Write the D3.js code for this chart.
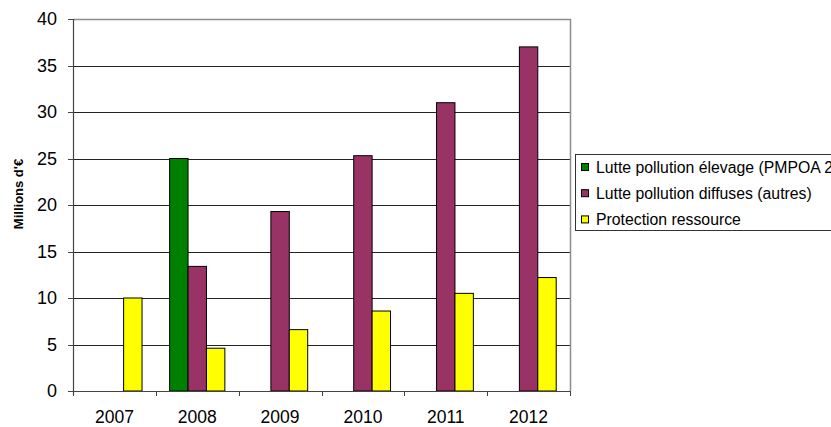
<!DOCTYPE html>
<html>
<head>
<meta charset="utf-8">
<script src="https://cdn.jsdelivr.net/npm/d3@7"></script>
<style>
  html, body { margin: 0; padding: 0; background: #fff; }
  svg { display: block; font-family: "Liberation Sans", Arial, sans-serif; }
</style>
</head>
<body>
<svg id="chart" width="831" height="427"></svg>
<script>
// Budget par année (millions d'euros)
const years = ["2007", "2008", "2009", "2010", "2011", "2012"];
const seriesNames = [
  "Lutte pollution élevage (PMPOA 2)",
  "Lutte pollution diffuses (autres)",
  "Protection ressource"
];
const elevage = [null, 25, null, null, null, null];
const diffuses = [null, 13.4, 19.3, 25.3, 31, 37];
const ressource = [10, 4.6, 6.6, 8.6, 10.5, 12.2];
const seriesColors = ["#008000", "#993366", "#ffff00"];
const yTicks = [0, 5, 10, 15, 20, 25, 30, 35, 40];

const seriesValues = [elevage, diffuses, ressource];

const svg = d3.select("#chart");
const plot = { left: 73, right: 570, top: 19, bottom: 391 };

const x0 = d3.scaleBand()
  .domain(years)
  .range([plot.left, plot.right])
  .paddingInner(1 / 3)
  .paddingOuter(1 / 6);

const x1 = d3.scaleBand()
  .domain(d3.range(seriesNames.length))
  .range([0, x0.bandwidth()]);

const y = d3.scaleLinear().domain([0, 40]).range([plot.bottom, plot.top]);

// Horizontal gridlines
svg.append("g")
  .selectAll("line")
  .data(yTicks.filter(t => t > 0 && t < 40))
  .join("line")
  .attr("x1", plot.left).attr("x2", plot.right)
  .attr("y1", d => Math.round(y(d)) + 0.5).attr("y2", d => Math.round(y(d)) + 0.5)
  .attr("stroke", "#222").attr("stroke-width", 1);

// Plot frame (top and right)
svg.append("path")
  .attr("d", `M${plot.left},${plot.top + 0.5}H${plot.right + 0.5}V${plot.bottom}`)
  .attr("fill", "none").attr("stroke", "#8c8c8c").attr("stroke-width", 1.5);

// Bars
const rows = years.map((yr, i) => ({ year: yr, values: seriesValues.map(s => s[i]) }));
svg.append("g")
  .selectAll("g")
  .data(rows)
  .join("g")
  .attr("transform", d => `translate(${x0(d.year)},0)`)
  .selectAll("rect")
  .data(d => d.values.map((v, k) => ({ k, v })).filter(e => e.v != null))
  .join("rect")
  .attr("x", d => x1(d.k))
  .attr("width", x1.bandwidth())
  .attr("y", d => y(d.v))
  .attr("height", d => y(0) - y(d.v))
  .attr("fill", d => seriesColors[d.k])
  .attr("stroke", "#000").attr("stroke-width", 1);

// Y axis
const yAxis = svg.append("g");
yAxis.append("line")
  .attr("x1", plot.left + 0.5).attr("x2", plot.left + 0.5)
  .attr("y1", plot.top).attr("y2", plot.bottom + 4)
  .attr("stroke", "#444").attr("stroke-width", 1.2);
yAxis.selectAll("line.tick")
  .data(yTicks)
  .join("line")
  .attr("class", "tick")
  .attr("x1", plot.left - 5).attr("x2", plot.left)
  .attr("y1", d => Math.round(y(d)) + 0.5).attr("y2", d => Math.round(y(d)) + 0.5)
  .attr("stroke", "#444");
yAxis.selectAll("text")
  .data(yTicks)
  .join("text")
  .attr("x", plot.left - 16)
  .attr("y", d => y(d))
  .attr("dy", "0.36em")
  .attr("text-anchor", "end")
  .attr("font-size", 18)
  .attr("fill", "#000")
  .text(d => d);

// X axis
const xAxis = svg.append("g");
xAxis.append("line")
  .attr("x1", plot.left).attr("x2", plot.right)
  .attr("y1", plot.bottom + 0.5).attr("y2", plot.bottom + 0.5)
  .attr("stroke", "#444").attr("stroke-width", 1.2);
const boundaries = d3.range(years.length + 1).map(i => plot.left + i * x0.step());
xAxis.selectAll("line.tick")
  .data(boundaries)
  .join("line")
  .attr("class", "tick")
  .attr("x1", d => Math.round(d) + 0.5).attr("x2", d => Math.round(d) + 0.5)
  .attr("y1", plot.bottom).attr("y2", plot.bottom + 5)
  .attr("stroke", "#444");
xAxis.selectAll("text")
  .data(years)
  .join("text")
  .attr("x", d => x0(d) + x0.bandwidth() / 2)
  .attr("y", 423)
  .attr("text-anchor", "middle")
  .attr("font-size", 17.5)
  .attr("fill", "#000")
  .text(d => d);

// Y axis title
svg.append("text")
  .attr("transform", "translate(23,194) rotate(-90)")
  .attr("text-anchor", "middle")
  .attr("font-size", 13)
  .attr("font-weight", "bold")
  .attr("fill", "#000")
  .text("Millions d'€");

// Legend
const legend = svg.append("g").attr("transform", "translate(575,154)");
legend.append("rect")
  .attr("x", 0.5).attr("y", 0.5)
  .attr("width", 300).attr("height", 76)
  .attr("fill", "#fff").attr("stroke", "#333").attr("stroke-width", 1);
const items = legend.selectAll("g.item")
  .data(seriesNames)
  .join("g")
  .attr("class", "item")
  .attr("transform", (d, i) => `translate(0,${13 + i * 26.2})`);
items.append("rect")
  .attr("x", 6.5).attr("y", -3.5)
  .attr("width", 7).attr("height", 7)
  .attr("fill", (d, i) => seriesColors[i])
  .attr("stroke", "#000").attr("stroke-width", 1);
items.append("text")
  .attr("x", 21)
  .attr("y", 0)
  .attr("dy", "0.36em")
  .attr("font-size", 15.8)
  .attr("fill", "#000")
  .text(d => d);
</script>
</body>
</html>
